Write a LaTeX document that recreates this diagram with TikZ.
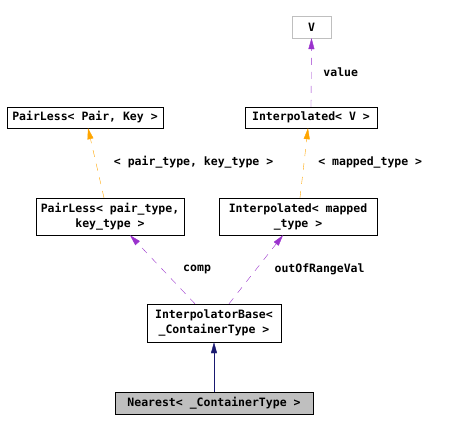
\documentclass[tikz,border=0pt]{standalone}
\usepackage{fontspec}
\newfontfamily\dxfont{DejaVu Sans Mono}
\usetikzlibrary{arrows.meta,positioning}
\definecolor{dxInherit}{HTML}{191970}
\definecolor{dxUse}{HTML}{9A32CD}
\definecolor{dxTempl}{HTML}{FFA500}
\definecolor{dxGray}{HTML}{BFBFBF}
\tikzset{
  cls/.style={
    draw, thin, inner sep=1pt, align=center,
    font=\dxfont\bfseries\fontsize{11.5}{15}\selectfont
  },
  extcls/.style={cls, draw=dxGray},
  curcls/.style={cls, fill=dxGray},
  lbl/.style={font=\dxfont\bfseries\fontsize{11.5}{13}\selectfont, text=black, anchor=west, inner sep=0pt},
  inherit/.style={-{Triangle[length=11pt,width=6pt]}, dxInherit},
  usage/.style={-{Triangle[length=11pt,width=6pt]}, dxUse, dash pattern=on 7pt off 7pt},
  templ/.style={-{Triangle[length=11pt,width=6pt]}, dxTempl, dash pattern=on 7pt off 7pt}
}
\begin{document}
\begin{tikzpicture}[x=1pt,y=-1pt]
  \useasboundingbox (0,0) rectangle (452,431);
  % classes
  \node[extcls, minimum width=39pt, minimum height=22pt] (V) at (311.5,27) {V};
  \node[cls, minimum width=156pt, minimum height=21pt] (pairKey) at (85,117.5) {PairLess< Pair, Key >};
  \node[cls, minimum width=132pt, minimum height=21pt] (interpV) at (311,117.5) {Interpolated< V >};
  \node[cls, minimum width=148pt, minimum height=37pt] (pairType) at (110,216.5) {PairLess< pair\_type,\\key\_type >};
  \node[cls, minimum width=158pt, minimum height=37pt] (interpMapped) at (298,216.5) {Interpolated< mapped\\\_type >};
  \node[cls, minimum width=134pt, minimum height=38pt] (base) at (214,323) {InterpolatorBase<\\\_ContainerType >};
  \node[curcls, minimum width=198pt, minimum height=22pt] (nearest) at (214,403) {Nearest< \_ContainerType >};
  % relations
  \draw[usage] (interpV.north) -- node[lbl, pos=0.5, xshift=12pt] {value} (V.south);
  \draw[templ] ([xshift=-6pt]pairType.north) -- node[lbl, pos=0.514, xshift=18pt] {< pair\_type, key\_type >} ([xshift=3pt]pairKey.south);
  \draw[templ] ([xshift=2pt]interpMapped.north) -- node[lbl, pos=0.514, xshift=14pt] {< mapped\_type >} ([xshift=-3pt]interpV.south);
  \draw[usage] ([xshift=-19pt]base.north) -- node[lbl, pos=0.507, xshift=21pt] {comp} ([xshift=20pt]pairType.south);
  \draw[usage] ([xshift=15pt]base.north) -- node[lbl, pos=0.507, xshift=18pt] {outOfRangeVal} ([xshift=-15pt]interpMapped.south);
  \draw[inherit] (nearest.north) -- (base.south);
\end{tikzpicture}
\end{document}
